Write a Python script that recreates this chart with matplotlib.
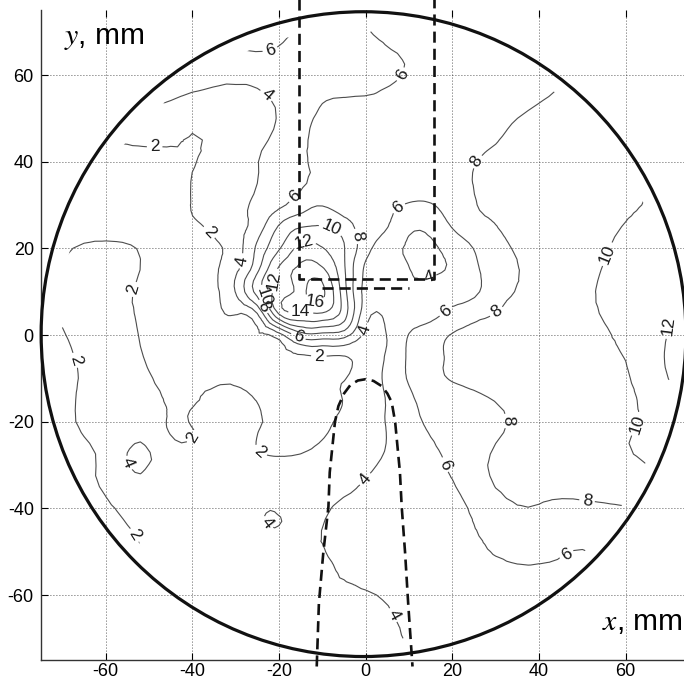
import numpy as np
import matplotlib
matplotlib.use("Agg")
import matplotlib.pyplot as plt
import matplotlib.tri as mtri
from matplotlib.patches import Circle

plt.rcParams['font.family'] = ['Liberation Sans', 'DejaVu Sans']
plt.rcParams['mathtext.fontset'] = 'stix'
plt.rcParams['axes.unicode_minus'] = False

# ---------------- data ----------------
levels = [2, 4, 6, 8, 10, 12, 14, 16]

grid_x = [-70, -60, -50, -40, -30, -20, -10, 0, 10, 20, 30, 40, 50, 60, 70]
grid_y = [70, 60, 50, 40, 30, 20, 10, 0, -10, -20, -30, -40, -50, -60, -70]
grid_z = [
    [4.0, 4.0, 4.5, 5.8, 7.5, 6.5, 5.5, 5.9, 6.6, 7.0, 7.5, 8.0, 8.5, 9.0, 9.5],
    [3.0, 3.5, 4.3, 5.0, 4.4, 4.9, 5.2, 5.6, 6.1, 7.0, 7.4, 7.6, 8.3, 8.8, 9.2],
    [1.5, 1.8, 3.4, 2.5, 3.2, 4.1, 6.4, 6.6, 7.0, 7.3, 7.7, 8.3, 8.8, 9.3, 9.8],
    [1.5, 1.5, 1.3, 1.9, 3.2, 4.7, 6.5, 7.0, 7.3, 7.7, 8.2, 8.8, 9.3, 9.7, 10.2],
    [1.5, 1.2, 1.0, 2.05, 3.4, 5.6, 7.9, 6.8, 5.9, 6.9, 8.4, 9.0, 9.5, 9.8, 10.5],
    [1.8, 2.2, 1.8, 1.3, 3.0, 9.8, 12.1, 6.7, 3.7, 4.8, 7.3, 8.7, 9.4, 10.4, 11.5],
    [2.3, 2.5, 1.7, 1.2, 4.1, 12.9, 16.5, 5.3, 4.3, 5.1, 7.2, 8.4, 9.6, 10.7, 11.95],
    [1.9, 2.6, 1.7, 1.1, 1.5, 3.2, 7.3, 3.5, 6.05, 8.1, 8.7, 9.2, 9.7, 10.25, 12.1],
    [1.5, 2.5, 2.1, 1.7, 1.9, 1.3, 1.5, 3.0, 6.2, 8.1, 8.7, 9.3, 9.6, 9.85, 12.05],
    [1.5, 2.6, 2.8, 2.1, 2.8, 1.6, 1.8, 3.3, 5.4, 6.7, 7.7, 8.5, 9.2, 9.8, 10.5],
    [1.5, 2.3, 3.95, 3.0, 2.9, 2.4, 2.7, 3.7, 4.9, 6.3, 8.3, 8.6, 9.1, 9.7, 10.3],
    [1.5, 1.8, 2.6, 2.8, 2.9, 3.5, 3.8, 4.5, 5.0, 5.4, 7.3, 7.9, 7.6, 7.9, 8.0],
    [1.8, 1.8, 2.1, 2.8, 3.0, 3.4, 3.95, 4.7, 5.0, 5.4, 6.1, 6.5, 5.95, 6.8, 7.0],
    [2.5, 2.5, 2.5, 2.8, 3.2, 3.5, 3.8, 3.9, 4.4, 4.8, 5.2, 5.0, 5.7, 6.0, 6.5],
    [3.0, 3.0, 3.0, 3.0, 3.0, 3.2, 3.5, 3.7, 4.05, 4.5, 5.0, 5.4, 5.6, 6.0, 6.5],
]

# extra readings where the contours are dense (peak, dip, channel, left bays)
fine_x = [
    -25, -15, -5, 5,
    -30, -25, -20, -15, -10, -5, 0, 5,
    -25, -15, -5, 5,
    -30, -25, -20, -15, -10, -5, 0, 5,
    -25, -15, -5, 5,
    -30, -25, -20, -15, -10, -5, 0, 5,
    -25, -15, -5, 5,
    -30, -25, -20, -15, -10, -5, 0, 5,
    -11.5,
    15, 25,
    10, 15, 20, 25,
    15, 25,
    10, 15, 20, 25,
    15, 25,
    10, 15, 20, 25,
    15, 25,
    10, 15, 20, 25,
    30,
    -10, -5, -5, -5, -5, 0, 0, 5, 5, 5, 5, 10, 10, -10, -15, -20, -25, -25,
    -44, -42.5, -41, -47, -37, -35, -30,
    -35, -35, -35, -35, -35, -35, -40, -35,
    -52, -57, -47, -52, -52,
    -21, -25, -17, -21, -21,
]
fine_y = [
    30, 30, 30, 30,
    25, 25, 25, 25, 25, 25, 25, 25,
    20, 20, 20, 20,
    15, 15, 15, 15, 15, 15, 15, 15,
    10, 10, 10, 10,
    5, 5, 5, 5, 5, 5, 5, 5,
    0, 0, 0, 0,
    -5, -5, -5, -5, -5, -5, -5, -5,
    10.5,
    30, 30,
    25, 25, 25, 25,
    20, 20,
    15, 15, 15, 15,
    10, 10,
    5, 5, 5, 5,
    0, 0,
    -5, -5, -5, -5,
    25,
    -15, -10, -15, -20, -25, -15, -25, -10, -15, -20, -25, -15, -25, -25, -25, -25, -25, -15,
    -15, -20, -24, -20, -20, -15, -15,
    0, 5, 10, 15, 20, 25, 25, 30,
    -28.5, -29, -29, -22, -35,
    -42, -42, -42, -46, -38,
]
fine_z = [
    4.3, 7.0, 7.0, 6.3,
    3.3, 5.0, 8.2, 9.9, 10.1, 9.0, 7.0, 6.05,
    6.4, 12.6, 10.1, 4.9,
    3.6, 7.6, 12.4, 14.5, 14.4, 10.3, 5.6, 4.6,
    8.8, 15.0, 10.8, 4.6,
    2.1, 4.05, 12.3, 13.8, 13.9, 11.0, 4.8, 4.5,
    1.7, 7.0, 6.8, 4.1,
    1.5, 1.4, 1.4, 1.7, 1.95, 1.9, 3.0, 4.2,
    17.0,
    5.9, 7.9,
    4.5, 4.6, 6.1, 7.2,
    3.6, 6.05,
    4.05, 3.7, 4.3, 5.6,
    4.6, 5.6,
    5.2, 5.4, 6.5, 7.4,
    7.0, 8.3,
    6.3, 7.5, 8.2, 8.4,
    7.95,
    1.6, 1.9, 2.05, 2.3, 2.5, 3.1, 3.3, 4.4, 4.1, 4.1, 4.05, 5.6, 5.1, 2.05, 1.8, 1.7, 1.95, 1.95,
    1.7, 1.75, 1.9, 2.3, 2.3, 2.2, 2.3,
    1.3, 1.5, 1.6, 1.7, 1.7, 2.3, 1.8, 2.5,
    4.8, 3.0, 3.3, 3.0, 3.1,
    4.3, 3.4, 3.5, 3.5, 3.6,
]

# contour label anchor points (x, y in mm)
label_xy = [
    (-48.7, 43.3), (-37.2, 22.8), (-53.5, 10.5), (-67.6, -6.0), (-38.5, -24.5),
    (-25.6, -27.9), (-52.4, -45.6), (-10.8, -4.1),
    (-21.7, 57.1), (-28.2, 17.0), (-0.5, 1.3), (14.8, 12.4), (-0.9, -32.6),
    (6.0, -64.9), (-55.6, -29.9), (-22.8, -43.4),
    (-21.9, 65.2), (9.0, 59.5), (-16.4, 32.0), (-15.5, -0.3), (7.9, 29.0),
    (18.7, 5.2), (17.5, -30.3), (46.2, -50.4),
    (26.3, 39.4), (31.4, 3.6), (33.5, -19.5), (51.2, -37.2), (-2.8, 22.7), (-23.6, 6.6),
    (-8.3, 23.9), (-22.6, 8.9), (54.2, 19.2), (63.5, -21.0),
    (-14.3, 21.3), (-21.0, 12.5), (69.9, 2.0),
    (-15.2, 6.4), (-11.5, 9.3),
]

# dashed outlines (mm)
upper_x = [-15.5, -15.5, 15.8, 15.8]
upper_y = [78.0, 13.0, 13.0, 78.0]
bar_x = [-10.0, 10.0]
bar_y = [10.8, 10.8]
lower_x = [-11.3, -10.8, -9.8, -8.6, -8.3, -7.1, -6.3, -5.0, -3.5, -1.8, 0.0,
           1.8, 3.7, 5.0, 6.0, 6.8, 7.9, 8.3, 9.1, 9.8, 10.8]
lower_y = [-76.5, -61.9, -50.4, -39.6, -31.7, -20.1, -16.4, -13.5, -11.5, -10.5, -10.2,
           -10.6, -11.8, -13.5, -15.5, -20.1, -31.7, -39.5, -50.4, -61.9, -76.5]

ticks = [-60, -40, -20, 0, 20, 40, 60]

# ---------------- figure ----------------
fig = plt.figure(figsize=(6.84, 6.84), dpi=100)
ax = fig.add_axes([40.7 / 684, 24 / 684, 650 / 684, 650 / 684])
ax.set_xlim(-75, 75)
ax.set_ylim(-75, 75)

GX, GY = np.meshgrid(np.array(grid_x, float), np.array(grid_y, float))
px = np.concatenate([GX.ravel(), np.array(fine_x, float)])
py = np.concatenate([GY.ravel(), np.array(fine_y, float)])
pz = np.concatenate([np.array(grid_z, float).ravel(), np.array(fine_z, float)])
tri = mtri.Triangulation(px, py)

# smooth rendering of the read values (library refiner, no new data)
interp = mtri.CubicTriInterpolator(tri, pz, kind='min_E')
refiner = mtri.UniformTriRefiner(tri)
tri_r, z_r = refiner.refine_field(pz, triinterpolator=interp, subdiv=2)

cs = ax.tricontour(tri_r, z_r, levels=levels, colors='#4d4d4d', linewidths=0.8, zorder=2)
ax.clabel(cs, levels, manual=label_xy, inline=True, inline_spacing=3,
          fmt='%d', fontsize=12.5, colors='#1a1a1a')
clip = Circle((0, 0), 71, transform=ax.transData)
cs.set_clip_path(clip)

ax.grid(True, linestyle=(0, (1, 2.6)), color='#222222', linewidth=0.6)
ax.set_axisbelow(True)

ax.add_patch(Circle((-0.5, 0.2), 74.4, fill=False, lw=2.3, color='#111111',
                    zorder=4, clip_on=False))

dash_kw = dict(color='#111111', lw=1.9, dashes=(4.2, 2.3), zorder=5, clip_on=False)
ax.plot(upper_x, upper_y, **dash_kw)
ax.plot(bar_x, bar_y, **dash_kw)
ax.plot(lower_x, lower_y, **dash_kw)

ax.set_xticks(ticks)
ax.set_yticks(ticks)
ax.set_xticklabels([str(t) for t in ticks])
ax.set_yticklabels([str(t) for t in ticks])
ax.tick_params(direction='in', length=5, width=0.8, top=True, right=False,
               labelsize=13, pad=2)
ax.tick_params(axis='y', pad=5)
for s in ['top', 'right']:
    ax.spines[s].set_visible(False)
for s in ['left', 'bottom']:
    ax.spines[s].set_linewidth(1.0)
    ax.spines[s].set_color('#333333')

ax.text(-69.7, 67.1, r'$y$, mm', fontsize=21.5, ha='left', va='baseline')
ax.text(73.2, -68.1, r'$x$, mm', fontsize=21.5, ha='right', va='baseline')

fig.savefig('out.png', dpi=100)
